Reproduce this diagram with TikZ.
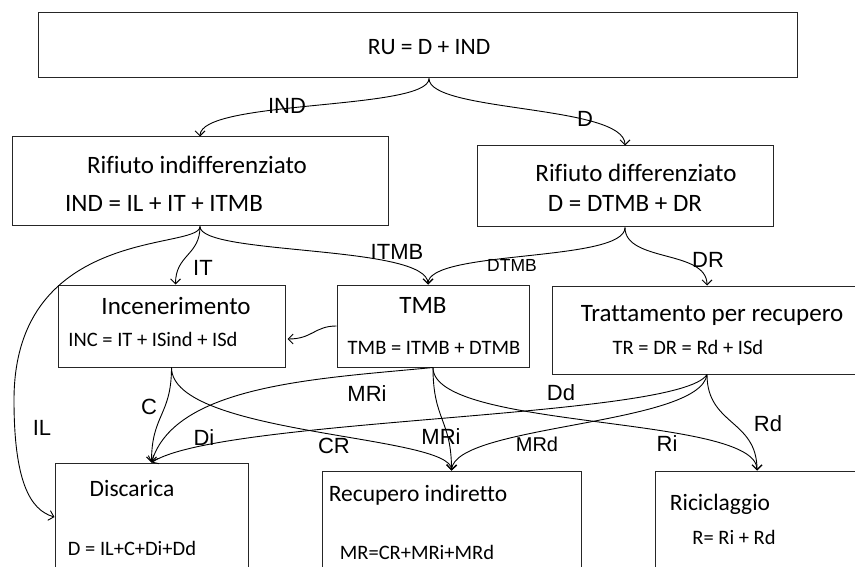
\documentclass[tikz,border=0pt]{standalone}
\usepackage{fontspec}
\newfontfamily\boxfont[Ligatures=NoCommon]{Carlito}
\newfontfamily\lblfont{Liberation Sans}
\usetikzlibrary{positioning,calc,arrows.meta}

\begin{document}
\begin{tikzpicture}[x=1pt,y=-1pt,>={Straight Barb[length=5pt,width=10pt]}]
                    \tikzstyle{box}=[draw=black!85,line width=1pt,rectangle,inner sep=0]
                    \tikzstyle{bigtxt}=[font=\boxfont\fontsize{25}{30}\selectfont,inner sep=0,anchor=base]
                    \tikzstyle{midtxt}=[font=\boxfont\fontsize{23.5}{28}\selectfont,inner sep=0,anchor=base]
                    \tikzstyle{smalltxt}=[font=\boxfont\fontsize{20.5}{24}\selectfont,inner sep=0,anchor=base]
                    \tikzstyle{lbl}=[font=\lblfont\fontsize{22}{25}\selectfont,inner sep=0]
                    \tikzstyle{flow}=[->,line width=0.9pt]
                    \clip (0,0) rectangle (855,567);
                    \fill[white] (0,0) rectangle (855,567);
                    {
                        \node[box,minimum width=759,minimum height=65] (ru) at (417.5,45.5) {};
                        \node[box,minimum width=376,minimum height=89] (ind) at (200,181.5) {};
                        \node[box,minimum width=296,minimum height=81] (dif) at (625,186.5) {};
                        \node[box,minimum width=227,minimum height=82] (inc) at (171.5,326) {};
                        \node[box,minimum width=192,minimum height=82] (tmb) at (433,326) {};
                        \node[box,minimum width=310,minimum height=88] (tr) at (707,330) {};
                        \node[box,minimum width=193,minimum height=108] (dis) at (151.5,517) {};
                        \node[box,minimum width=259,minimum height=128] (rec) at (451.5,535) {};
                        \node[box,minimum width=204,minimum height=128] (ric) at (757,535) {};
                    }
                    {
                        \node[midtxt] (rutxt) at (429,55) {RU = D + IND};
                        \node[bigtxt] (indname) at (197,174) {Rifiuto indifferenziato};
                        \node[bigtxt] (indeq) at (164,211.5) {IND = IL + IT + ITMB};
                        \node[bigtxt] (difname) at (636,181.5) {Rifiuto differenziato};
                        \node[bigtxt] (difeq) at (625,211.5) {D = DTMB + DR};
                        \node[bigtxt] (incname) at (176,314) {Incenerimento};
                        \node[smalltxt] (inceq) at (153,346) {INC = IT + ISind + ISd};
                        \node[bigtxt] (tmbname) at (423,313) {TMB};
                        \node[smalltxt] (tmbeq) at (434,354) {TMB = ITMB + DTMB};
                        \node[bigtxt] (trname) at (712,321.5) {Trattamento per recupero};
                        \node[smalltxt] (treq) at (688,354) {TR = DR = Rd + ISd};
                        \node[midtxt] (disname) at (132,496) {Discarica};
                        \node[smalltxt] (diseq) at (132,555) {D = IL+C+Di+Dd};
                        \node[midtxt] (recname) at (418,501.5) {Recupero indiretto};
                        \node[smalltxt] (receq) at (417,559) {MR=CR+MRi+MRd};
                        \node[midtxt] (ricname) at (720,510) {Riciclaggio};
                        \node[smalltxt] (riceq) at (734,544) {R= Ri + Rd};
                    }
                    {
                        \node[lbl] (lind) at (287,106) {IND};
                        \node[lbl] (ld) at (585,119) {D};
                        \node[lbl] (lit) at (203,268) {IT};
                        \node[lbl] (litmb) at (397,252) {ITMB};
                        \node[lbl,font=\lblfont\fontsize{17.5}{20}\selectfont] (ldtmb) at (512,265) {DTMB};
                        \node[lbl] (ldr) at (708,260) {DR};
                        \node[lbl] (lil) at (42,428) {IL};
                        \node[lbl] (lc) at (149,407) {C};
                        \node[lbl] (lmri) at (367,394) {MRi};
                        \node[lbl] (ldi) at (204,438) {Di};
                        \node[lbl] (lcr) at (334,446) {CR};
                        \node[lbl] (lmrib) at (441,437) {MRi};
                        \node[lbl] (ldd) at (561,393) {Dd};
                        \node[lbl,font=\lblfont\fontsize{20}{23}\selectfont] (lmrd) at (537,444) {MRd};
                        \node[lbl] (lri) at (667,444) {Ri};
                        \node[lbl] (lrd) at (768,424) {Rd};
                    }
                    \coordinate (ilbend) at (14,400);
                    \draw[flow] ([xshift=11.5]ru.south) .. controls ($(ru.south)+(11.5,32)$) and ($(ind.north)+(0,-37)$) .. (ind.north);
                    \draw[flow] ([xshift=11.5]ru.south) .. controls ($(ru.south)+(11.5,34)$) and ($(dif.north)+(0,-41)$) .. (dif.north);
                    \draw[flow] (ind.south) .. controls ($(ind.south)+(0,29)$) and ($(inc.north)+(4,-30)$) .. ([xshift=4]inc.north);
                    \draw[flow] (ind.south) .. controls ($(ind.south)+(0,24)$) and (14,225) .. (ilbend) .. controls (14,480) and ($(dis.west)+(-25,-7)$) .. (dis.west);
                    \draw[flow] (ind.south) .. controls ($(ind.south)+(0,29)$) and ($(tmb.north)+(-5,-40)$) .. ([xshift=-5]tmb.north);
                    \draw[flow] (dif.south) .. controls ($(dif.south)+(0,35)$) and ($(tmb.north)+(-5,-35)$) .. ([xshift=-5]tmb.north);
                    \draw[flow] (dif.south) .. controls ($(dif.south)+(0,35)$) and ($(tr.north)+(0,-36)$) .. (tr.north);
                    \draw[flow] (tmb.west) .. controls ($(tmb.west)+(-22,0)$) and ($(inc.east)+(27,13)$) .. ($(inc.east)+(2,13)$);
                    \draw[flow] (inc.south) .. controls ($(inc.south)+(0,48)$) and ($(dis.north)+(0,-48)$) .. (dis.north);
                    \draw[flow] (inc.south) .. controls ($(inc.south)+(0,68)$) and ($(rec.north)+(0,-36)$) .. (rec.north);
                    \draw[flow] (tmb.south) .. controls ($(tmb.south)+(-113,11)$) and ($(dis.north)+(23.5,-78)$) .. (dis.north);
                    \draw[flow] (tmb.south) .. controls ($(tmb.south)+(0,53)$) and ($(rec.north)+(0,-51)$) .. (rec.north);
                    \draw[flow] (tmb.south) .. controls ($(tmb.south)+(0,63)$) and ($(ric.north)+(0,-56)$) .. (ric.north);
                    \draw[flow] (tr.south) .. controls ($(tr.south)+(-27,44)$) and ($(dis.north)+(70,-45)$) .. (dis.north);
                    \draw[flow] (tr.south) .. controls ($(tr.south)+(-7,51)$) and ($(rec.north)+(3.5,-46)$) .. (rec.north);
                    \draw[flow] (tr.south) .. controls ($(tr.south)+(0,51)$) and ($(ric.north)+(0,-51)$) .. (ric.north);
                \end{tikzpicture}
\end{document}
